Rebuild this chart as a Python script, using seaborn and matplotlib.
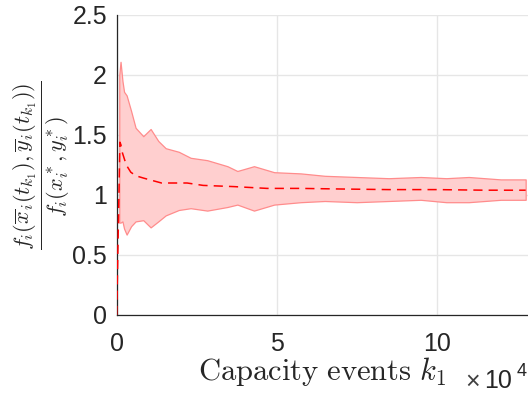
import numpy as np
import pandas as pd
import matplotlib
matplotlib.use("Agg")
import matplotlib.pyplot as plt
import seaborn as sns

# ---- data (x in units of 1e4 capacity events) ----
x_band = [0.08, 0.12, 0.18, 0.23, 0.31, 0.45, 0.59, 0.83, 1.06, 1.30, 1.53, 1.94,
          2.31, 2.83, 3.46, 3.77, 4.29, 4.92, 5.75, 6.50, 7.50, 8.50, 9.50, 10.3,
          11.0, 12.0, 12.78]
upper = [2.00, 2.11, 1.95, 1.86, 1.83, 1.70, 1.56, 1.49, 1.55, 1.45, 1.39, 1.36,
         1.31, 1.29, 1.24, 1.20, 1.24, 1.19, 1.18, 1.16, 1.15, 1.14, 1.15, 1.14,
         1.15, 1.13, 1.13]
lower = [0.77, 0.77, 0.78, 0.72, 0.67, 0.74, 0.78, 0.79, 0.73, 0.78, 0.83, 0.875,
         0.89, 0.87, 0.90, 0.92, 0.87, 0.92, 0.94, 0.95, 0.94, 0.95, 0.96, 0.94,
         0.94, 0.96, 0.96]
x_mean = [0.0, 0.10, 0.13, 0.18, 0.30, 0.44, 0.60, 0.85, 1.40, 2.20, 2.70, 3.66,
          4.70, 5.75, 7.00, 8.50, 10.0, 11.5, 12.78]
mean = [0.0, 1.44, 1.42, 1.35, 1.25, 1.19, 1.16, 1.14, 1.10, 1.10, 1.08, 1.07,
        1.055, 1.055, 1.05, 1.045, 1.045, 1.04, 1.04]

x_ticks = [0, 5, 10]
y_ticks = [0, 0.5, 1, 1.5, 2, 2.5]
y_tick_labels = ["0", "0.5", "1", "1.5", "2", "2.5"]

SCALE = 1e4

band_df = pd.DataFrame({"k": np.array(x_band) * SCALE, "lo": lower, "hi": upper})
mean_df = pd.DataFrame({"k": np.array(x_mean) * SCALE, "ratio": mean})

sns.set_theme(style="whitegrid")
plt.rcParams["font.family"] = ["Liberation Sans", "DejaVu Sans"]
plt.rcParams["mathtext.fontset"] = "cm"

W, H = 528, 395
fig = plt.figure(figsize=(W / 100, H / 100), dpi=100)
ax = fig.add_axes([116.7 / W, 80 / H, 416 / W, 300 / H])

ax.fill_between(band_df["k"], band_df["lo"], band_df["hi"],
                facecolor="#ffcfcf", edgecolor="#ff8c8c", linewidth=0.9, zorder=2)
sns.lineplot(data=mean_df, x="k", y="ratio", ax=ax, color="#ff0000",
             linewidth=1.1, zorder=3)
ax.lines[-1].set_dashes([6, 4])

ax.set_xlim(0, 13 * SCALE)
ax.set_ylim(0, 2.5)
ax.set_xticks([t * SCALE for t in x_ticks])
ax.set_xticklabels([str(t) for t in x_ticks])
ax.set_yticks(y_ticks)
ax.set_yticklabels(y_tick_labels)
ax.tick_params(axis="both", labelsize=18, colors="#262626", direction="in",
               length=4, width=0.8)
ax.tick_params(axis="x", pad=12)
ax.tick_params(axis="y", pad=7)

ax.grid(True, color="#e6e6e6", linewidth=1.0)
ax.set_axisbelow(True)
for side in ["top", "right"]:
    ax.spines[side].set_visible(False)
for side in ["left", "bottom"]:
    ax.spines[side].set_color("#262626")
    ax.spines[side].set_linewidth(0.9)
ax.set_facecolor("white")

ax.set_xlabel("")
ax.set_ylabel("")
fig.text(322 / W, 1 - 372 / H, r"$\mathrm{Capacity\ events}\ k_1$",
         fontsize=22, ha="center", va="center", color="#262626")
fig.text(465 / W, 1 - 382 / H, "×", fontsize=18, ha="left", va="center",
         color="#404040")
fig.text(484 / W, 1 - 381 / H, "10", fontsize=18, ha="left", va="center",
         color="#262626")
fig.text(517 / W, 1 - 372 / H, "4", fontsize=13, ha="left", va="center",
         color="#262626")
fig.text(42 / W, 1 - 165 / H,
         r"$\frac{f_i(\overline{x}_i(t_{k_1}),\overline{y}_i(t_{k_1}))}{f_i(x_i^*,y_i^*)}$",
         fontsize=23, rotation=90, ha="center", va="center", color="#262626")

fig.savefig("out.png", dpi=100)
